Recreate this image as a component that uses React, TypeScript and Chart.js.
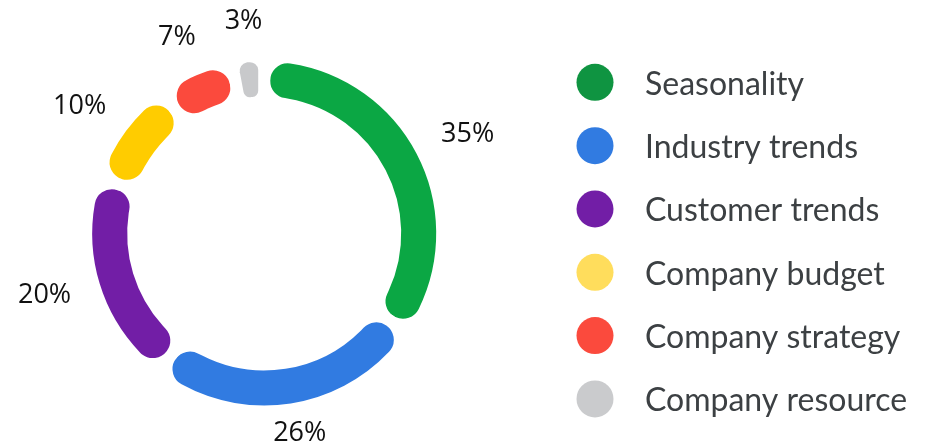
import React, { useEffect, useRef } from "react";
import { Chart, registerables } from "chart.js";

Chart.register(...registerables);

const categories = [
  "Seasonality",
  "Industry trends",
  "Customer trends",
  "Company budget",
  "Company strategy",
  "Company resource",
];
const shares = [35, 26, 20, 10, 7, 3];
const shareLabels = ["35%", "26%", "20%", "10%", "7%", "3%"];
const segmentColors = ["#0ba744", "#317be1", "#721ea6", "#ffcc00", "#fb4a3d", "#c8c9cb"];
const legendColors = ["#0f9441", "#317be1", "#721ea6", "#ffdd5c", "#fb4a3d", "#cacbcd"];

const outsideLabels = {
  id: "outsideLabels",
  afterDatasetsDraw(chart: any) {
    const ctx = chart.ctx;
    const meta = chart.getDatasetMeta(0);
    const H = chart.height;
    ctx.save();
    ctx.font = "27px 'Open Sans'";
    ctx.fillStyle = "#111111";
    ctx.textAlign = "center";
    ctx.textBaseline = "middle";
    meta.data.forEach((arc: any, i: number) => {
      const mid = (arc.startAngle + arc.endAngle) / 2;
      const vx = Math.cos(mid);
      const vy = Math.sin(mid);
      const r = arc.outerRadius + 25;
      const text = shareLabels[i];
      const w = ctx.measureText(text).width;
      const h = 20;
      const x = arc.x + vx * r + (vx * w) / 2;
      let y = arc.y + vy * r + (vy * h) / 2;
      y = Math.min(y, H - 3 - h / 2);
      y = Math.max(y, 3 + h / 2);
      ctx.fillText(text, x, y);
    });
    ctx.restore();
  },
};

const sideLegend = {
  id: "sideLegend",
  afterDraw(chart: any) {
    const ctx = chart.ctx;
    const labels = chart.data.labels as string[];
    const x0 = 587;
    const y0 = 74.3;
    const step = 63.33;
    ctx.save();
    ctx.font = "32px Lato";
    ctx.textAlign = "left";
    ctx.textBaseline = "alphabetic";
    labels.forEach((lab, i) => {
      const cy = y0 + i * step;
      ctx.beginPath();
      ctx.arc(x0, cy, 18.5, 0, Math.PI * 2);
      ctx.fillStyle = legendColors[i];
      ctx.fill();
      ctx.fillStyle = "#3c4043";
      ctx.fillText(lab, x0 + 50, cy + 12.5);
    });
    ctx.restore();
  },
};

export default function App() {
  const ref = useRef<HTMLCanvasElement>(null);
  useEffect(() => {
    if (!ref.current) return;
    const chart = new Chart(ref.current, {
      type: "doughnut",
      data: {
        labels: categories,
        datasets: [
          {
            data: shares,
            backgroundColor: segmentColors,
            borderColor: "#ffffff",
            borderWidth: 12,
            borderJoinStyle: "round",
            borderRadius: 24,
          } as any,
        ],
      },
      options: {
        responsive: false,
        animation: false,
        cutout: "73.6%",
        layout: { padding: { left: 72.2, right: 475.8, top: 41.5, bottom: 28.5 } },
        plugins: {
          legend: { display: false },
          tooltip: { enabled: false },
        },
      } as any,
      plugins: [outsideLabels, sideLegend],
    });
    return () => chart.destroy();
  }, []);
  return <canvas ref={ref} width={916} height={438} style={{ display: "block" }} />;
}
